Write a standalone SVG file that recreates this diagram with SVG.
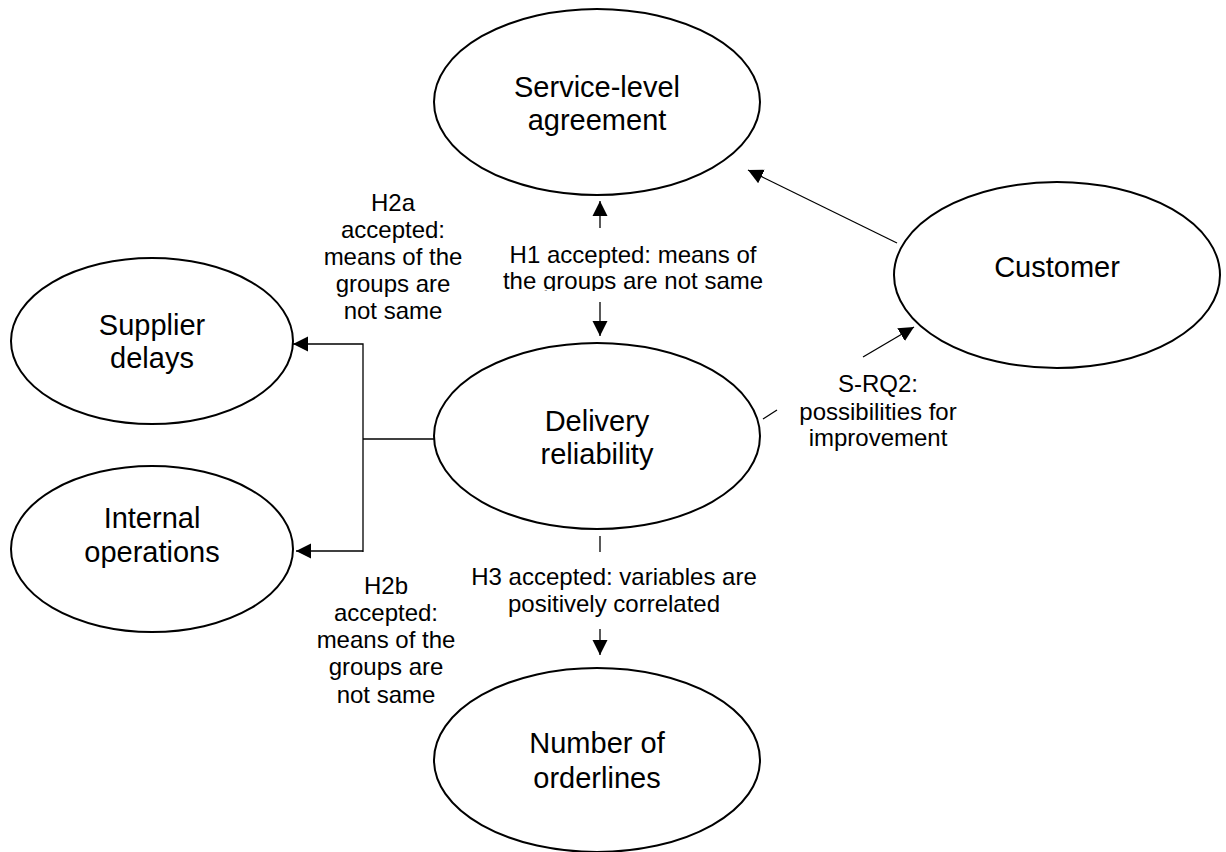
<svg xmlns="http://www.w3.org/2000/svg" width="1226" height="852" viewBox="0 0 1226 852">
  <style>
    .node ellipse { fill: #ffffff; stroke: #000000; stroke-width: 2; }
    .node text { font-family: "Liberation Sans", Arial, sans-serif; font-size: 29px; fill: #000000; text-anchor: middle; }
    .label text { font-family: "Liberation Sans", Arial, sans-serif; font-size: 24px; fill: #000000; text-anchor: middle; }
    .edge { fill: none; stroke: #000000; stroke-width: 1.3; }
  </style>
  <defs>
    <marker id="arrow" markerUnits="userSpaceOnUse" markerWidth="16" markerHeight="16" viewBox="0 0 16 16" refX="15" refY="8" orient="auto">
      <path d="M0,0.5 L15,8 L0,15.5 Z" fill="#000000"/>
    </marker>
    <clipPath id="h1clip">
      <rect x="480" y="230" width="310" height="61"/>
    </clipPath>
  </defs>
  <rect width="1226" height="852" fill="#ffffff"/>

  <!-- connectors -->
  <g id="connectors">
    <!-- H1: delivery reliability <-> service-level agreement -->
    <path class="edge" d="M600,228 L600,201" marker-end="url(#arrow)"/>
    <path class="edge" d="M600,302 L600,336" marker-end="url(#arrow)"/>
    <!-- customer -> service-level agreement -->
    <path class="edge" d="M897,243 L748,170" marker-end="url(#arrow)"/>
    <!-- S-RQ2: delivery reliability -> customer -->
    <path class="edge" d="M763,419 L777,410"/>
    <path class="edge" d="M863,357 L914,327" marker-end="url(#arrow)"/>
    <!-- H2a / H2b elbow -->
    <path class="edge" d="M434,439 L363,439"/>
    <path class="edge" d="M363,552 L363,344 L293,344" marker-end="url(#arrow)"/>
    <path class="edge" d="M363,551 L296,551" marker-end="url(#arrow)"/>
    <!-- H3: delivery reliability -> number of orderlines -->
    <path class="edge" d="M600,536 L600,552"/>
    <path class="edge" d="M600,629 L600,655" marker-end="url(#arrow)"/>
  </g>

  <!-- nodes -->
  <g id="node-sla" class="node">
    <ellipse cx="597" cy="102" rx="163" ry="93"/>
    <text x="597" y="97">Service-level</text>
    <text x="597" y="130">agreement</text>
  </g>
  <g id="node-customer" class="node">
    <ellipse cx="1057" cy="275" rx="163" ry="93"/>
    <text x="1057" y="277">Customer</text>
  </g>
  <g id="node-supplier" class="node">
    <ellipse cx="152" cy="341" rx="141" ry="83"/>
    <text x="152" y="335">Supplier</text>
    <text x="152" y="368">delays</text>
  </g>
  <g id="node-internal" class="node">
    <ellipse cx="152" cy="549" rx="141" ry="83"/>
    <text x="152" y="528">Internal</text>
    <text x="152" y="562">operations</text>
  </g>
  <g id="node-delivery" class="node">
    <ellipse cx="597" cy="436" rx="163" ry="93"/>
    <text x="597" y="431">Delivery</text>
    <text x="597" y="464">reliability</text>
  </g>
  <g id="node-orderlines" class="node">
    <ellipse cx="597" cy="760" rx="163" ry="92"/>
    <text x="597" y="753">Number of</text>
    <text x="597" y="788">orderlines</text>
  </g>

  <!-- connector labels -->
  <g id="label-h1" class="label" clip-path="url(#h1clip)">
    <text x="633" y="263">H1 accepted: means of</text>
    <text x="633" y="289">the groups are not same</text>
  </g>
  <g id="label-h2a" class="label">
    <text x="393" y="211">H2a</text>
    <text x="393" y="238">accepted:</text>
    <text x="393" y="265">means of the</text>
    <text x="393" y="292">groups are</text>
    <text x="393" y="319">not same</text>
  </g>
  <g id="label-h2b" class="label">
    <text x="386" y="594">H2b</text>
    <text x="386" y="621">accepted:</text>
    <text x="386" y="648">means of the</text>
    <text x="386" y="675">groups are</text>
    <text x="386" y="703">not same</text>
  </g>
  <g id="label-h3" class="label">
    <text x="614" y="585">H3 accepted: variables are</text>
    <text x="614" y="612">positively correlated</text>
  </g>
  <g id="label-srq2" class="label">
    <text x="878" y="392">S-RQ2:</text>
    <text x="878" y="420">possibilities for</text>
    <text x="878" y="446">improvement</text>
  </g>
</svg>
